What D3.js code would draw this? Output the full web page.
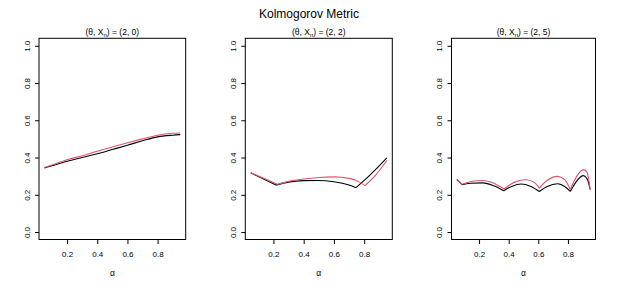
<!DOCTYPE html>
<html><head><meta charset="utf-8">
<script src="https://cdn.jsdelivr.net/npm/d3@7"></script>
<style>body{margin:0;background:#fff}svg{display:block}text{font-family:"Liberation Sans",Arial,sans-serif}</style>
</head><body>
<script>
const mainTitle = "Kolmogorov Metric";
const panelParams = [["2","0"],["2","2"],["2","5"]];
const xTicks = [0.2,0.4,0.6,0.8];
const yTicks = [0,0.2,0.4,0.6,0.8,1.0];

// panel 1
const p1AlphaBlack = [0.05,0.1,0.2,0.3,0.4,0.5,0.6,0.7,0.8,0.9,0.95];
const p1Black      = [0.344,0.356,0.38,0.40,0.42,0.443,0.466,0.49,0.511,0.52,0.523];
const p1AlphaRed   = [0.05,0.1,0.2,0.3,0.4,0.5,0.6,0.7,0.8,0.9,0.95];
const p1Red        = [0.346,0.36,0.388,0.41,0.434,0.457,0.479,0.50,0.52,0.53,0.532];
// panel 2
const p2AlphaBlack = [0.05,0.217,0.30,0.40,0.49,0.60,0.70,0.746,0.85,0.95];
const p2Black      = [0.318,0.252,0.268,0.276,0.277,0.270,0.252,0.238,0.315,0.398];
const p2AlphaRed   = [0.05,0.226,0.30,0.40,0.50,0.60,0.70,0.76,0.805,0.88,0.95];
const p2Red        = [0.318,0.256,0.272,0.285,0.293,0.296,0.288,0.272,0.249,0.31,0.384];
// panel 3
const p3AlphaBlack = [0.05,0.085,0.14,0.224,0.30,0.366,0.42,0.483,0.55,0.607,0.66,0.73,0.78,0.816,0.86,0.905,0.93,0.95];
const p3Black      = [0.281,0.254,0.262,0.264,0.248,0.222,0.245,0.258,0.245,0.218,0.245,0.259,0.243,0.218,0.275,0.303,0.285,0.228];
const p3AlphaRed   = [0.05,0.085,0.14,0.224,0.30,0.37,0.44,0.517,0.57,0.607,0.66,0.73,0.78,0.816,0.86,0.905,0.93,0.95];
const p3Red        = [0.283,0.256,0.270,0.277,0.262,0.231,0.268,0.281,0.268,0.236,0.278,0.299,0.280,0.227,0.300,0.335,0.318,0.23];

const panels = [
  {alphaB:p1AlphaBlack, b:p1Black, alphaR:p1AlphaRed, r:p1Red},
  {alphaB:p2AlphaBlack, b:p2Black, alphaR:p2AlphaRed, r:p2Red},
  {alphaB:p3AlphaBlack, b:p3Black, alphaR:p3AlphaRed, r:p3Red}
];
const boxes = [[39,185.7],[245.3,392.3],[451.5,595.5]];
const plotTop = 38.3, plotBottom = 239.5;

const svg = d3.select("body").append("svg").attr("width",619).attr("height",288);
svg.append("text").attr("x",309).attr("y",17.5).attr("text-anchor","middle")
  .attr("font-size",12).text(mainTitle);

// split a series at interior local minima (kinks) so each arc is smoothed separately
function segments(pts){
  const segs=[]; let cur=[pts[0]];
  for(let k=1;k<pts.length;k++){
    cur.push(pts[k]);
    if(k<pts.length-1 && pts[k][1]<pts[k-1][1] && pts[k][1]<pts[k+1][1]){ segs.push(cur); cur=[pts[k]]; }
  }
  segs.push(cur); return segs;
}

panels.forEach((p,i)=>{
  const [L,R] = boxes[i];
  const x = d3.scaleLinear().domain([0.014,0.986]).range([L,R]);
  const y = d3.scaleLinear().domain([-0.04,1.04]).range([plotBottom,plotTop]);
  const g = svg.append("g");
  const xa = g.append("g").attr("transform",`translate(0,${plotBottom})`)
    .call(d3.axisBottom(x).tickValues(xTicks).tickSize(4.5).tickPadding(7).tickFormat(d3.format(".1f")));
  xa.select(".domain").remove();
  xa.selectAll("text").attr("font-size",8).attr("font-family","Liberation Sans, Arial, sans-serif").attr("fill","#000");
  xa.selectAll("line").attr("stroke","#000");
  const ya = g.append("g").attr("transform",`translate(${L},0)`)
    .call(d3.axisLeft(y).tickValues(yTicks).tickSize(4).tickFormat(d3.format(".1f")));
  ya.select(".domain").remove();
  ya.selectAll("line").attr("stroke","#000");
  ya.selectAll("text").attr("font-size",8).attr("font-family","Liberation Sans, Arial, sans-serif").attr("fill","#000")
    .attr("text-anchor","middle").attr("x",0).attr("dy",0)
    .attr("transform","translate(-12.5,0) rotate(-90)").attr("y",3);
  g.append("rect").attr("x",L).attr("y",plotTop).attr("width",R-L).attr("height",plotBottom-plotTop)
    .attr("fill","none").attr("stroke","#000").attr("stroke-width",1);
  const line = d3.line().x(d=>x(d[0])).y(d=>y(d[1])).curve(d3.curveMonotoneX);
  const pathFor = pts => segments(pts).map(s=>line(s)).join("");
  g.append("path").attr("d",pathFor(p.alphaB.map((a,j)=>[a,p.b[j]])))
    .attr("fill","none").attr("stroke","#000").attr("stroke-width",1.1).attr("stroke-linejoin","round");
  g.append("path").attr("d",pathFor(p.alphaR.map((a,j)=>[a,p.r[j]])))
    .attr("fill","none").attr("stroke","#DF536B").attr("stroke-width",1.1).attr("stroke-linejoin","round");
  const cx = (L+R)/2;
  const t = g.append("text").attr("x",cx).attr("y",35).attr("text-anchor","middle").attr("font-size",8.5);
  t.append("tspan").text("(\u03B8, X");
  t.append("tspan").attr("font-size",6).attr("dy",2).text("n");
  t.append("tspan").attr("dy",-2).text(`) = (${panelParams[i][0]}, ${panelParams[i][1]})`);
  g.append("text").attr("x",cx).attr("y",276).attr("text-anchor","middle").attr("font-size",8.5).text("\u03B1");
});
</script>
</body></html>
